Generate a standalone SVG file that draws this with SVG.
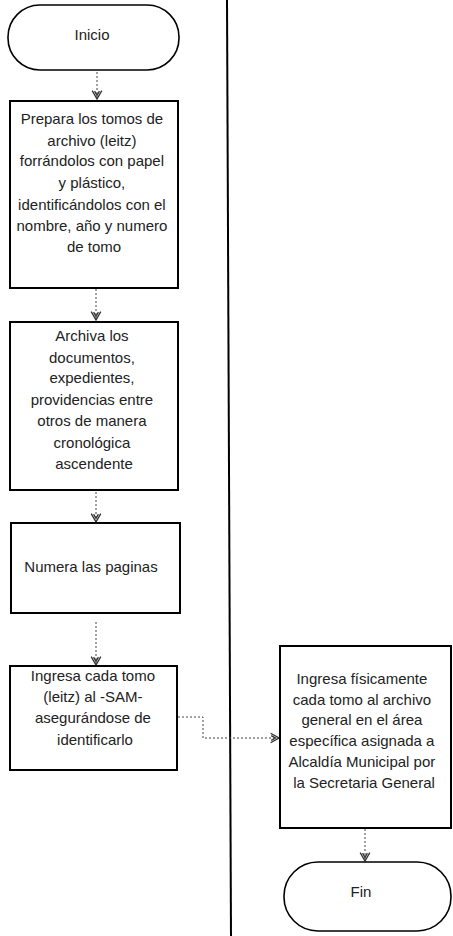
<svg xmlns="http://www.w3.org/2000/svg" width="453" height="936" viewBox="0 0 453 936">
  <style>
    .shape { fill: #ffffff; stroke: #000000; stroke-width: 2; }
    .term { fill: #ffffff; stroke: #000000; stroke-width: 1.6; }
    .label { font-family: "Liberation Sans", Arial, sans-serif; font-size: 15px; fill: #222222; text-anchor: middle; }
    .flow { fill: none; stroke: #444444; stroke-width: 1; stroke-dasharray: 2 2; }
    .lane { stroke: #000000; stroke-width: 2; }
  </style>
  <defs>
    <!-- open double-chevron head, drawn pointing along +x so orient="auto" follows the line -->
    <marker id="arrow" markerUnits="userSpaceOnUse" markerWidth="12" markerHeight="12" viewBox="0 0 10 10" refX="9" refY="5" orient="auto">
      <path d="M2,1 L9,5 L2,9 M2.5,3 L6,5 L2.5,7" fill="none" stroke="#333333" stroke-width="1.1"/>
    </marker>
  </defs>

  <!-- swimlane divider -->
  <line class="lane" x1="227" y1="0" x2="231" y2="936"/>

  <!-- connectors -->
  <g id="connectors">
    <line class="flow" x1="97" y1="72" x2="97" y2="99" marker-end="url(#arrow)"/>
    <line class="flow" x1="96" y1="289" x2="96" y2="320" marker-end="url(#arrow)"/>
    <line class="flow" x1="96" y1="492" x2="96" y2="522" marker-end="url(#arrow)"/>
    <line class="flow" x1="96" y1="622" x2="96" y2="665" marker-end="url(#arrow)"/>
    <polyline class="flow" points="178,717 203,717 203,738 279,738" marker-end="url(#arrow)"/>
    <line class="flow" x1="365" y1="829" x2="365" y2="861" marker-end="url(#arrow)"/>
  </g>

  <g id="inicio">
    <rect class="term" x="8" y="5" width="171" height="65" rx="32" ry="32"/>
    <text class="label" x="92" y="40">Inicio</text>
  </g>

  <g id="preparar">
    <rect class="shape" x="10" y="101" width="168" height="187"/>
    <text class="label" x="94">
      <tspan x="94" y="124">Prepara los tomos de</tspan>
      <tspan x="94" y="146">archivo (leitz)</tspan>
      <tspan x="94" y="166">forrándolos con papel</tspan>
      <tspan x="94" y="188">y plástico,</tspan>
      <tspan x="94" y="210">identificándolos con el</tspan>
      <tspan x="94" y="231">nombre, año y numero</tspan>
      <tspan x="94" y="252">de tomo</tspan>
    </text>
  </g>

  <g id="archivar">
    <rect class="shape" x="10" y="322" width="168" height="168"/>
    <text class="label" x="94">
      <tspan x="94" y="341">Archiva los</tspan>
      <tspan x="94" y="363">documentos,</tspan>
      <tspan x="94" y="383">expedientes,</tspan>
      <tspan x="94" y="405">providencias entre</tspan>
      <tspan x="94" y="426">otros de manera</tspan>
      <tspan x="94" y="448">cronológica</tspan>
      <tspan x="94" y="469">ascendente</tspan>
    </text>
  </g>

  <g id="numerar">
    <rect class="shape" x="11" y="523" width="169" height="90"/>
    <text class="label" x="91" y="572">Numera las paginas</text>
  </g>

  <g id="ingresar-sam">
    <rect class="shape" x="10" y="666" width="167" height="104"/>
    <text class="label" x="95">
      <tspan x="95" y="681">Ingresa cada tomo</tspan>
      <tspan x="95" y="702">(leitz) al -SAM-</tspan>
      <tspan x="95" y="723">asegurándose de</tspan>
      <tspan x="95" y="745">identificarlo</tspan>
    </text>
  </g>

  <g id="ingresar-archivo">
    <rect class="shape" x="280" y="646" width="171" height="182"/>
    <text class="label" x="364">
      <tspan x="364" y="684">Ingresa físicamente</tspan>
      <tspan x="364" y="705">cada tomo al archivo</tspan>
      <tspan x="364" y="725">general en el área</tspan>
      <tspan x="364" y="746">específica asignada a</tspan>
      <tspan x="364" y="767">Alcaldía Municipal por</tspan>
      <tspan x="364" y="788">la Secretaria General</tspan>
    </text>
  </g>

  <g id="fin">
    <rect class="term" x="284" y="862" width="167" height="69" rx="34" ry="34"/>
    <text class="label" x="361" y="897">Fin</text>
  </g>
</svg>
